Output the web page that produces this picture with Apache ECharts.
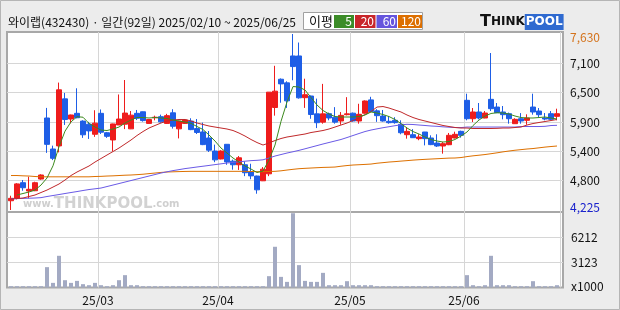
<!DOCTYPE html>
<html><head><meta charset="utf-8">
<script src="https://cdn.jsdelivr.net/npm/echarts@6/dist/echarts.min.js"></script>
<style>html,body{margin:0;padding:0;background:#ececec}#c{width:620px;height:310px}</style>
</head><body><div id="c"></div>
<script>
const dates = [
'2025/02/10','2025/02/11','2025/02/12','2025/02/13','2025/02/14','2025/02/17','2025/02/18','2025/02/19','2025/02/20','2025/02/21',
'2025/02/24','2025/02/25','2025/02/26','2025/02/27','2025/02/28',
'2025/03/04','2025/03/05','2025/03/06','2025/03/07','2025/03/10','2025/03/11','2025/03/12','2025/03/13','2025/03/14',
'2025/03/17','2025/03/18','2025/03/19','2025/03/20','2025/03/21','2025/03/24','2025/03/25','2025/03/26','2025/03/27','2025/03/28','2025/03/31',
'2025/04/01','2025/04/02','2025/04/03','2025/04/04','2025/04/07','2025/04/08','2025/04/09','2025/04/10','2025/04/11',
'2025/04/14','2025/04/15','2025/04/16','2025/04/17','2025/04/18','2025/04/21','2025/04/22','2025/04/23','2025/04/24','2025/04/25',
'2025/04/28','2025/04/29','2025/04/30',
'2025/05/02','2025/05/07','2025/05/08','2025/05/09','2025/05/12','2025/05/13','2025/05/14','2025/05/15','2025/05/16',
'2025/05/19','2025/05/20','2025/05/21','2025/05/22','2025/05/23','2025/05/26','2025/05/27','2025/05/28','2025/05/29','2025/05/30',
'2025/06/02','2025/06/04','2025/06/05','2025/06/09','2025/06/10','2025/06/11','2025/06/12','2025/06/13',
'2025/06/16','2025/06/17','2025/06/18','2025/06/19','2025/06/20','2025/06/23','2025/06/24','2025/06/25'
];
const open = [4404,4450,4753,4592,4598,4824,6005,5405,5465,6375,5985,6095,5945,5885,5690,6095,5720,5580,5870,5885,
5795,6095,6125,5900,6010,6030,5900,6105,5795,5900,5945,5800,5735,5618,5366,5212,5496,5170,5100,5100,
4963,4882,4790,4925,6208,6755,6685,7205,7205,6398,6430,6085,5925,6088,6020,5947,6069,6098,5947,6098,
6355,6143,6043,5941,5960,5883,5682,5682,5605,5734,5618,5521,5463,5488,5618,5747,6347,5991,6121,6005,
6366,6217,6121,6088,5895,5991,5960,6217,6140,6005,6088,6037];
const close = [4451,4730,4656,4625,4753,4902,5495,5225,6550,5975,6063,6010,5680,5755,5905,5730,5650,5890,5985,6100,
6060,6000,5955,5975,6020,5930,6050,5845,5945,5965,5780,5725,5490,5382,5195,5366,5155,5100,5235,4946,
4885,4615,5015,6505,6524,6665,6337,7000,6395,6455,6072,5914,6085,6005,5925,6056,6085,5947,6076,6334,
6130,6050,5947,5914,5915,5720,5747,5624,5637,5605,5490,5463,5508,5670,5689,5670,5991,6121,6005,6101,
6185,6108,6069,5991,5979,5947,6005,6121,6069,5985,5979,6088];
const low = [4225,4430,4598,4451,4590,4810,5330,5190,5340,5870,5900,6000,5620,5600,5640,5695,5620,5360,5870,5790,
5790,5965,5935,5895,5960,5915,5890,5800,5610,5890,5770,5695,5480,5347,5150,5205,5100,5005,5000,4880,
4820,4540,4785,4880,6050,6300,6200,6735,6380,6200,5990,5810,5895,5960,5895,5875,6055,5935,5895,6090,
6125,5930,5935,5895,5895,5690,5605,5620,5575,5475,5480,5444,5315,5480,5610,5625,5960,5927,5979,6000,
6140,6100,5979,5895,5890,5895,5875,6069,6024,5960,5960,5960];
const high = [4501,4745,4805,4869,4772,4915,6200,5470,6690,6490,6070,6580,5960,5930,6155,6170,5735,5895,6460,6740,
6140,6160,6130,5985,6050,6070,6085,6175,5950,5985,6000,5985,5915,5753,5490,5380,5500,5200,5270,5165,
5120,4890,5055,6505,7015,6770,6715,7630,7465,6765,6440,6380,6665,6110,6215,6120,6408,6110,6280,6345,
6415,6175,6160,6043,6020,5960,5830,5790,5690,5735,5670,5690,5540,5715,5740,5760,6475,6198,6295,6140,
7262,6295,6237,6110,6000,6100,6076,6475,6198,6101,6140,6185];
const ma5 = [null,4515,4544,4573,4611,4708,4844,5080,5450,5750,5930,6030,6020,5900,5830,5772,5763,5792,5830,5908,
5966,6014,6014,6005,6014,6005,5995,5966,5947,5927,5902,5840,5782,5676,5559,5424,5327,5231,5153,5076,
5018,4950,4979,5192,5482,5940,6314,6614,6604,6546,6401,6256,6150,6082,6033,6024,6024,6024,6033,6063,
6121,6101,6072,6033,5975,5898,5811,5743,5695,5637,5589,5560,5540,5550,5589,5656,5734,5859,5966,6043,
6092,6107,6101,6082,6043,6014,6005,6005,6014,6024,6005,5985];
const ma20 = [4437,4447,4457,4486,4515,4563,4611,4669,4728,4805,4892,4960,5018,5076,5153,5221,5289,5356,5424,5501,
5579,5666,5743,5811,5860,5908,5947,5966,5976,5976,5947,5908,5879,5850,5830,5811,5792,5763,5714,5656,
5589,5530,5482,5521,5569,5608,5637,5656,5676,5695,5724,5743,5763,5792,5830,5869,5908,5956,6005,6072,
6130,6217,6227,6198,6159,6121,6063,6014,5976,5947,5918,5889,5860,5840,5821,5811,5811,5802,5802,5802,
5802,5805,5811,5811,5821,5830,5869,5898,5918,5937,5956,5976];
const ma60 = [4441,4445,4449,4453,4457,4464,4486,4505,4524,4544,4563,4582,4602,4621,4635,4650,4679,4708,4737,4766,
4795,4824,4853,4882,4911,4940,4964,4987,5006,5026,5041,5057,5072,5087,5103,5118,5134,5145,5157,5169,
5180,5186,5196,5231,5269,5298,5327,5352,5379,5409,5440,5471,5502,5531,5560,5589,5627,5666,5705,5743,
5772,5795,5817,5836,5856,5873,5883,5879,5869,5860,5850,5844,5834,5827,5821,5819,5830,5830,5830,5830,
5830,5830,5830,5830,5830,5840,5840,5840,5840,5844,5859,5863];
const ma120 = [4892,4892,4886,4882,4873,4867,4867,4867,4867,4867,4867,4867,4867,4867,4873,4876,4882,4886,4892,4898,
4902,4909,4917,4929,4940,4952,4960,4964,4968,4971,4973,4973,4973,4973,4973,4973,4973,4973,4973,4973,
4970,4966,4966,4970,4973,4983,4998,5012,5024,5031,5037,5043,5049,5052,5056,5072,5085,5095,5101,5107,
5114,5130,5141,5153,5161,5171,5180,5190,5198,5205,5211,5217,5223,5229,5231,5240,5258,5273,5285,5298,
5314,5331,5350,5366,5381,5393,5405,5414,5428,5442,5453,5463];
const volume = [160,160,160,160,160,160,2508,570,3905,900,570,815,410,285,570,285,160,285,900,1520,
285,285,160,160,160,160,160,160,160,160,160,160,160,160,160,160,160,160,160,160,
160,160,160,1396,5017,1310,692,9150,2755,815,692,692,1804,285,285,285,778,285,285,285,
285,160,160,160,160,160,160,160,160,160,160,160,160,160,160,160,1520,285,160,285,
3905,285,285,285,160,160,160,778,160,160,160,285];
const priceTickLabels = ['4,225','4,800','5,400','5,900','6,500','7,100','7,630'];
const volTickLabels = ['x1000','3123','6212',''];

const FONT = "'Noto Sans CJK KR','Noto Sans',sans-serif";
const UP = '#ee1c1c', DOWN = '#1e5ee6';
const GRIDLINE = '#d6d6d6', FRAME = '#a8a8a8';
const isMonthStart = i => i > 0 && dates[i].slice(5,7) !== dates[i-1].slice(5,7);
const candles = dates.map((d,i)=>[open[i],close[i],low[i],high[i]]);

const PMIN = 4225, PMAX = 7630, PSTEP = (PMAX-PMIN)/6;
const VMAX = 9300, VSTEP = 3100;

const chart = echarts.init(document.getElementById('c'), null, {renderer:'canvas'});
const hiddenCat = gi => ({type:'category', gridIndex:gi, data:dates, boundaryGap:true, show:false});
chart.setOption({
  animation:false,
  backgroundColor:'#ececec',
  textStyle:{fontFamily:FONT},
  grid:[
    {left:8, right:60, top:34, height:176},              // 0 candles
    {left:8, right:60, top:212, height:75.5},             // 1 volume bars + month labels
    {left:8, right:60, top:32, height:180},               // 2 price vertical lines
    {left:7, right:57, top:34, height:176},               // 3 price labels + h-lines
    {left:7, right:57, top:32, height:180, show:true, backgroundColor:'#fff', borderColor:FRAME, borderWidth:2, z:-1}, // 4 price frame
    {left:7, right:57, top:212, height:75.5, show:true, backgroundColor:'#fff', borderColor:FRAME, borderWidth:2, z:-1} // 5 volume frame + labels
  ],
  xAxis:[
    hiddenCat(0),
    {type:'category', gridIndex:1, data:dates, boundaryGap:true,
      axisLine:{show:false}, axisTick:{show:false},
      axisLabel:{interval:(i)=>isMonthStart(i), formatter:v=>v.slice(2,4)+'/'+v.slice(5,7),
        margin:7, padding:[0,6,0,0], fontSize:12, color:'#111', fontFamily:FONT},
      splitLine:{show:true, interval:(i)=>isMonthStart(i), lineStyle:{color:GRIDLINE, width:1}}},
    {type:'category', gridIndex:2, data:dates, boundaryGap:true,
      axisLine:{show:false}, axisTick:{show:false}, axisLabel:{show:false},
      splitLine:{show:true, interval:(i)=>isMonthStart(i), lineStyle:{color:GRIDLINE, width:1}}},
    {type:'value', gridIndex:3, show:false, min:0, max:1},
    {type:'value', gridIndex:5, show:false, min:0, max:1}
  ],
  yAxis:[
    {type:'value', gridIndex:0, min:PMIN, max:PMAX, show:false},
    {type:'value', gridIndex:1, min:0, max:VMAX, show:false},
    {type:'value', gridIndex:2, min:0, max:1, show:false},
    {type:'value', gridIndex:3, position:'right', min:PMIN, max:PMAX, interval:PSTEP,
      axisLine:{show:false}, axisTick:{show:false},
      splitLine:{show:true, showMinLine:false, showMaxLine:false, lineStyle:{color:GRIDLINE, width:1}},
      axisLabel:{margin:7, fontSize:12, color:'#111', fontFamily:FONT,
        formatter:(v)=>{const k=Math.round((v-PMIN)/PSTEP); const t=priceTickLabels[k];
          if(k===6) return '{mx|'+t+'}'; if(k===0) return '{mn|'+t+'}'; return t;},
        rich:{mx:{color:'#d4731c', fontSize:12, fontFamily:FONT, padding:[6,0,0,0]},
              mn:{color:'#1a22cc', fontSize:12, fontFamily:FONT, padding:[0,0,6,0]}}}},
    {type:'value', gridIndex:5, position:'right', min:0, max:VMAX, interval:VSTEP,
      axisLine:{show:false}, axisTick:{show:false},
      splitLine:{show:true, showMinLine:false, showMaxLine:false, lineStyle:{color:GRIDLINE, width:1}},
      axisLabel:{margin:8, fontSize:12, color:'#111', fontFamily:FONT,
        formatter:(v)=>{const k=Math.round(v/VSTEP); return k===0 ? '{b|'+volTickLabels[0]+'}' : volTickLabels[k];},
        rich:{b:{fontSize:12, fontFamily:FONT, color:'#111', padding:[0,0,3,0]}}}}
  ],
  series:[
    {type:'candlestick', xAxisIndex:0, yAxisIndex:0, data:candles, barWidth:5,
      itemStyle:{color:UP, color0:DOWN, borderColor:UP, borderColor0:DOWN, borderWidth:1}},
    {type:'line', xAxisIndex:0, yAxisIndex:0, data:ma120, showSymbol:false, lineStyle:{color:'#dd7000', width:1}, z:3},
    {type:'line', xAxisIndex:0, yAxisIndex:0, data:ma60, showSymbol:false, lineStyle:{color:'#6a5ae6', width:1}, z:3},
    {type:'line', xAxisIndex:0, yAxisIndex:0, data:ma20, showSymbol:false, lineStyle:{color:'#c0282a', width:1}, z:3},
    {type:'line', xAxisIndex:0, yAxisIndex:0, data:ma5, showSymbol:false, lineStyle:{color:'#3c8a1e', width:1}, z:3},
    {type:'bar', xAxisIndex:1, yAxisIndex:1, data:volume, barWidth:4, itemStyle:{color:'#a3aac3'}}
  ],
  graphic:[
    {type:'rect', shape:{x:0.5,y:0.5,width:619,height:309}, style:{fill:'none', stroke:'#b5b5b5', lineWidth:1}, silent:true},
    {type:'text', x:8, y:22, style:{text:'와이랩(432430) · 일간(92일) 2025/02/10 ~ 2025/06/25', font:'12px '+FONT, fill:'#111', verticalAlign:'middle'}},
    {type:'rect', shape:{x:303.5,y:12.5,width:119,height:17}, style:{fill:'#fff', stroke:'#a0a0a0', lineWidth:1}},
    {type:'text', x:309, y:21.5, style:{text:'이평', font:'13px '+FONT, fill:'#111', verticalAlign:'middle'}},
    {type:'rect', shape:{x:334,y:15,width:20,height:13}, style:{fill:'#3c8c28'}},
    {type:'text', x:352, y:21.5, style:{text:'5', font:'12px '+FONT, fill:'#fff', align:'right', verticalAlign:'middle'}},
    {type:'rect', shape:{x:355,y:15,width:20.5,height:13}, style:{fill:'#c8262a'}},
    {type:'text', x:374, y:21.5, style:{text:'20', font:'12px '+FONT, fill:'#fff', align:'right', verticalAlign:'middle'}},
    {type:'rect', shape:{x:376.5,y:15,width:20.5,height:13}, style:{fill:'#6655dd'}},
    {type:'text', x:396, y:21.5, style:{text:'60', font:'12px '+FONT, fill:'#fff', align:'right', verticalAlign:'middle'}},
    {type:'rect', shape:{x:398,y:15,width:24,height:13}, style:{fill:'#dd6f00'}},
    {type:'text', x:421, y:21.5, style:{text:'120', font:'12px '+FONT, fill:'#fff', align:'right', verticalAlign:'middle'}},
    {type:'text', x:480, y:22, style:{text:'{t|T}{h|HINK}{p|POOL}', verticalAlign:'middle',
      rich:{t:{font:'bold 16px DejaVu Sans', fill:'#111'}, h:{font:'bold 12px DejaVu Sans', fill:'#111'},
            p:{font:'bold 12px DejaVu Sans', fill:'#fff', backgroundColor:'#2f6ad0', padding:[2,1,2,1]}}}},
    {type:'text', x:23, y:204, z:1, silent:true, style:{text:'{s|www.}{b|THINKPOOL}{s|.com}', verticalAlign:'middle',
      rich:{s:{font:'bold 10px DejaVu Sans', fill:'#cfcfcf'}, b:{font:'bold 15px DejaVu Sans', fill:'#d2d2d2'}}}}
  ]
});
</script></body></html>
